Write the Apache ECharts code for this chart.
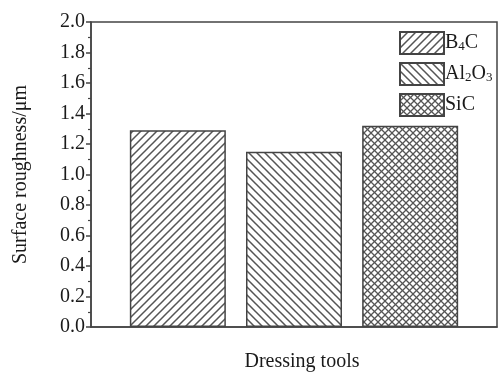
<!DOCTYPE html>
<html>
<head>
<meta charset="utf-8">
<script src="https://cdn.jsdelivr.net/npm/echarts@6/dist/echarts.min.js"></script>
<style>
  html, body { margin: 0; padding: 0; background: #fff; }
  #chart { width: 499px; height: 374px; }
</style>
</head>
<body>
<div id="chart"></div>
<script>
// Dressing tool materials and measured surface roughness (μm)
const tools = ['B4C', 'Al2O3', 'SiC'];
const roughness = [1.29, 1.15, 1.32];
const hatchKinds = ['forward', 'backward', 'cross'];
const yTicks = { min: 0, max: 2.0, step: 0.2 };

// Legend labels with chemical subscripts
const legendRich = {
  'B4C': '{n|B}{s|4}{n|C}',
  'Al2O3': '{n|Al}{s|2}{n|O}{s|3}',
  'SiC': '{n|SiC}'
};

const FONT = '"Liberation Serif", "Times New Roman", serif';
const INK = '#555';

// Build a repeating hatch tile for bar fills
function hatch(kind) {
  const size = kind === 'cross' ? 7 : 8;
  const c = document.createElement('canvas');
  c.width = size; c.height = size;
  const g = c.getContext('2d');
  g.fillStyle = '#fff';
  g.fillRect(0, 0, size, size);
  g.strokeStyle = INK;
  g.lineWidth = kind === 'cross' ? 1.3 : 1.5;
  const fwd = () => {
    g.beginPath();
    g.moveTo(-1, size + 1); g.lineTo(size + 1, -1);
    g.moveTo(-1, 1); g.lineTo(1, -1);
    g.moveTo(size - 1, size + 1); g.lineTo(size + 1, size - 1);
    g.stroke();
  };
  const bwd = () => {
    g.beginPath();
    g.moveTo(-1, -1); g.lineTo(size + 1, size + 1);
    g.moveTo(size - 1, -1); g.lineTo(size + 1, 1);
    g.moveTo(-1, size - 1); g.lineTo(1, size + 1);
    g.stroke();
  };
  if (kind === 'forward' || kind === 'cross') fwd();
  if (kind === 'backward' || kind === 'cross') bwd();
  return { image: c, repeat: 'repeat' };
}

const chart = echarts.init(document.getElementById('chart'), null, { renderer: 'canvas' });

const series = tools.map((name, i) => ({
  name: name,
  type: 'bar',
  data: [roughness[i]],
  barWidth: 96,
  barGap: '21%',
  itemStyle: {
    color: hatch(hatchKinds[i]),
    borderColor: '#444',
    borderWidth: 1.5
  }
}));

chart.setOption({
  animation: false,
  backgroundColor: '#fff',
  grid: {
    left: 91, top: 22, right: 2, bottom: 47,
    outerBoundsMode: 'none',
    containLabel: false,
    show: true, borderColor: '#444', borderWidth: 1.5, backgroundColor: 'transparent'
  },
  legend: {
    orient: 'vertical',
    left: 399, top: 31,
    icon: 'rect',
    itemWidth: 44, itemHeight: 22, itemGap: 7,
    padding: 0,
    selectedMode: false,
    data: tools,
    formatter: name => legendRich[name],
    textStyle: {
      padding: [0, 0, 0, -4],
      rich: {
        n: { fontFamily: FONT, fontSize: 20, color: '#1a1a1a' },
        s: { fontFamily: FONT, fontSize: 13, color: '#1a1a1a', verticalAlign: 'bottom', padding: [8, 0, 0, 0] }
      }
    }
  },
  xAxis: {
    type: 'category',
    data: [''],
    name: 'Dressing tools',
    nameLocation: 'middle',
    nameGap: 25,
    nameTextStyle: { fontFamily: FONT, fontSize: 20, color: '#1a1a1a', padding: [0, 0, 0, 16] },
    axisLine: { lineStyle: { color: '#444', width: 1.5 } },
    axisTick: { show: false },
    axisLabel: { show: false }
  },
  yAxis: {
    type: 'value',
    min: yTicks.min, max: yTicks.max, interval: yTicks.step,
    name: 'Surface roughness/μm',
    nameLocation: 'middle',
    nameGap: 60,
    nameTextStyle: { fontFamily: FONT, fontSize: 20, color: '#1a1a1a' },
    axisLine: { show: true, lineStyle: { color: '#444', width: 1.5 } },
    axisTick: { show: true, length: 5, lineStyle: { color: '#444', width: 1.5 } },
    minorTick: { show: true, splitNumber: 2, length: 3, lineStyle: { color: '#444', width: 1.2 } },
    splitLine: { show: false },
    axisLabel: {
      fontFamily: FONT, fontSize: 20, color: '#1a1a1a', margin: 6,
      formatter: v => v.toFixed(1)
    }
  },
  series: series
});
</script>
</body>
</html>
